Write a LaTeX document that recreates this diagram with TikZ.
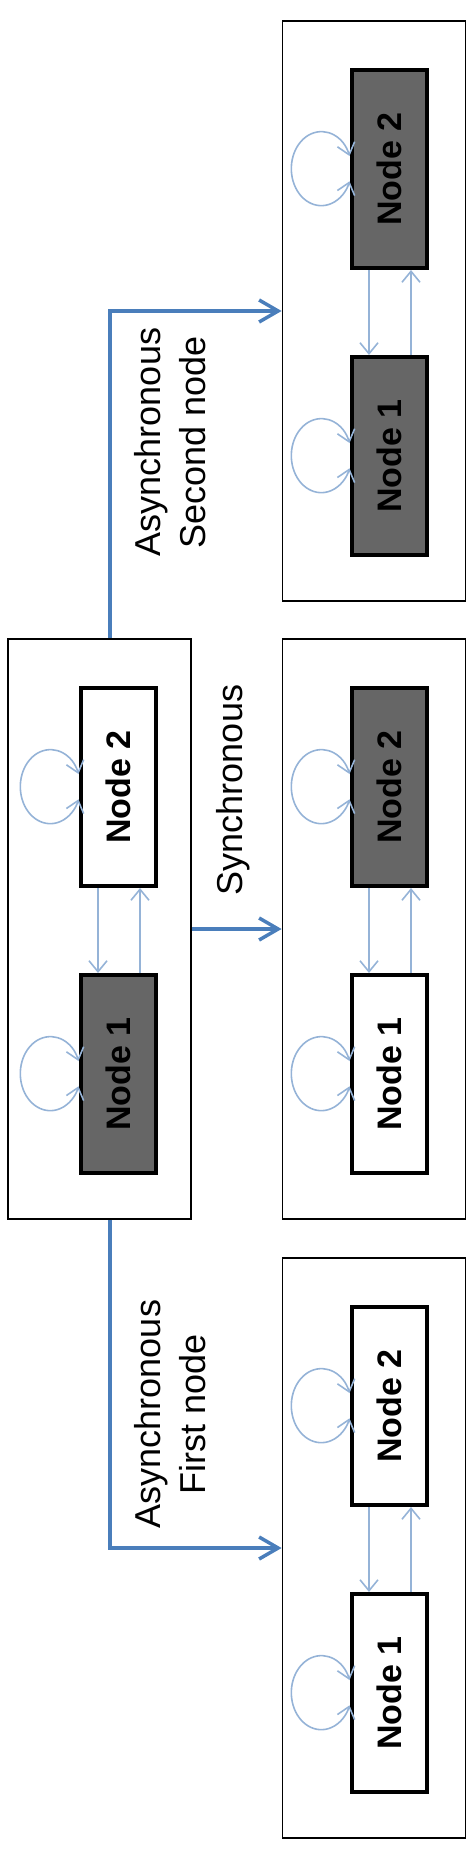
\documentclass[tikz,border=0pt]{standalone}
\usepackage{fontspec}
\setmainfont{Liberation Sans}
\usetikzlibrary{arrows.meta}
\definecolor{flowblue}{RGB}{74,126,187}
\definecolor{linkblue}{RGB}{149,179,215}
\definecolor{cellgray}{RGB}{102,102,102}
\begin{document}
\begin{tikzpicture}[x=1pt,y=-1pt,
	state/.style={draw=black,line width=1.8pt,minimum width=183pt,minimum height=580pt,inner sep=0pt},
	cell/.style={draw=black,line width=4pt,fill=white,minimum width=75pt,minimum height=198pt,inner sep=0pt,font=\fontsize{34}{40}\selectfont\bfseries},
	busy/.style={cell,fill=cellgray},
	link/.style={draw=linkblue,line width=1.6pt,-{Straight Barb[length=11pt,width=18pt]}},
	twoway/.style={link,{Straight Barb[length=11pt,width=18pt]}-{Straight Barb[length=11pt,width=18pt]}},
	flow/.style={draw=flowblue,line width=3.5pt,-{Straight Barb[length=19pt,width=22pt]}},
	caption/.style={font=\fontsize{36}{45}\selectfont,align=center,rotate=90}]
	\useasboundingbox (0,0) rectangle (474,1849);
	\node[state] (src) at (99.5,929) {};
	\node[state] (asyn2) at (374,311) {};
	\node[state] (syn) at (374,929) {};
	\node[state] (asyn1) at (374,1548) {};
	\node[busy] (src1) at (118,1074) {\rotatebox{90}{Node 1}};
	\node[cell] (src2) at (118,787) {\rotatebox{90}{Node 2}};
	\node[busy] (asyn21) at (389,456) {\rotatebox{90}{Node 1}};
	\node[busy] (asyn22) at (389,169) {\rotatebox{90}{Node 2}};
	\node[cell] (syn1) at (389,1074) {\rotatebox{90}{Node 1}};
	\node[busy] (syn2) at (389,787) {\rotatebox{90}{Node 2}};
	\node[cell] (asyn11) at (389,1693) {\rotatebox{90}{Node 1}};
	\node[cell] (asyn12) at (389,1406) {\rotatebox{90}{Node 2}};
	\draw[link] ([xshift=-20pt]src2.south) -- ([xshift=-20pt]src1.north);
	\draw[link] ([xshift=22pt]src1.north) -- ([xshift=22pt]src2.south);
	\draw[link] ([xshift=-20pt]asyn22.south) -- ([xshift=-20pt]asyn21.north);
	\draw[link] ([xshift=22pt]asyn21.north) -- ([xshift=22pt]asyn22.south);
	\draw[link] ([xshift=-20pt]syn2.south) -- ([xshift=-20pt]syn1.north);
	\draw[link] ([xshift=22pt]syn1.north) -- ([xshift=22pt]syn2.south);
	\draw[link] ([xshift=-20pt]asyn12.south) -- ([xshift=-20pt]asyn11.north);
	\draw[link] ([xshift=22pt]asyn11.north) -- ([xshift=22pt]asyn12.south);
	\draw[twoway] ([yshift=13pt]src1.west) arc[start angle=20,end angle=340,x radius=30pt,y radius=37pt];
	\draw[twoway] ([yshift=13pt]src2.west) arc[start angle=20,end angle=340,x radius=30pt,y radius=37pt];
	\draw[twoway] ([yshift=13pt]asyn21.west) arc[start angle=20,end angle=340,x radius=30pt,y radius=37pt];
	\draw[twoway] ([yshift=13pt]asyn22.west) arc[start angle=20,end angle=340,x radius=30pt,y radius=37pt];
	\draw[twoway] ([yshift=13pt]syn1.west) arc[start angle=20,end angle=340,x radius=30pt,y radius=37pt];
	\draw[twoway] ([yshift=13pt]syn2.west) arc[start angle=20,end angle=340,x radius=30pt,y radius=37pt];
	\draw[twoway] ([yshift=13pt]asyn11.west) arc[start angle=20,end angle=340,x radius=30pt,y radius=37pt];
	\draw[twoway] ([yshift=13pt]asyn12.west) arc[start angle=20,end angle=340,x radius=30pt,y radius=37pt];
	\draw[flow] ([xshift=10.5pt]src.north) |- (asyn2.west);
	\draw[flow] (src.east) -- (syn.west);
	\draw[flow] ([xshift=10.5pt]src.south) |- (asyn1.west);
	\node[caption] (lasyn2) at (170,442) {Asynchronous\\Second node};
	\node[caption] (lsyn) at (233,790) {Synchronous};
	\node[caption] (lasyn1) at (170,1414) {Asynchronous\\First node};
\end{tikzpicture}
\end{document}
